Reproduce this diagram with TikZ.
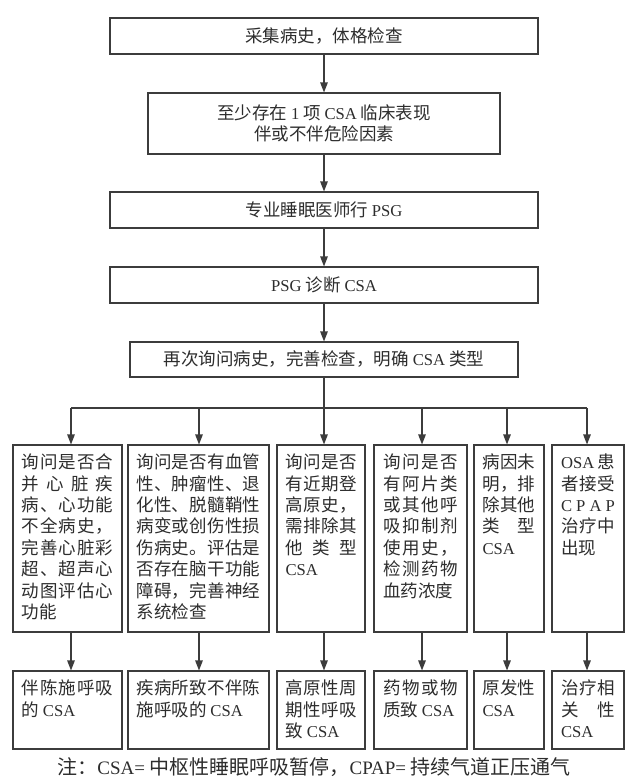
\documentclass[tikz,border=0pt]{standalone}
\usepackage{fontspec}
\setmainfont{Noto Sans CJK SC}
\newfontfamily\latf{Liberation Serif}[Scale=0.95]
\newcommand\en[1]{{\latf #1}}
\usetikzlibrary{arrows.meta}
\definecolor{lc}{RGB}{60,60,60}
\definecolor{tc}{RGB}{45,45,45}
\def\spline#1{\hbox to\hsize{\spa#1\relax\relax}}
\def\spa#1#2{#1\ifx\relax#2\else\hfil\expandafter\spa\fi{#2}}
\newcommand\cfont{\fontsize{17.5pt}{21.4pt}\selectfont}
\newcommand\ctext[3]{\parbox[c][#2][t]{#1}{\cfont #3}}
\begin{document}
\begin{tikzpicture}[x=1pt,y=-1pt,
  box/.style={draw=lc, line width=1.1pt, inner sep=0pt, text=tc, font=\cfont},
  link/.style={draw=lc, line width=1.1pt},
  arr/.style={link, -{Triangle[length=10pt,width=7.5pt]}}]
\useasboundingbox (0,0) rectangle (640,782);
\fill[white] (0,0) rectangle (640,782);
% top chain
\node[box, minimum width=428, minimum height=36] (a) at (324,36) {采集病史，体格检查};
\node[box, minimum width=352, minimum height=61, align=center] (b) at (324,123.5) {至少存在 \en{1} 项 \en{CSA} 临床表现\\伴或不伴危险因素};
\node[box, minimum width=428, minimum height=36] (c) at (324,210) {专业睡眠医师行 \en{PSG}};
\node[box, minimum width=428, minimum height=36] (d) at (324,285) {\en{PSG} 诊断 \en{CSA}};
\node[box, minimum width=388, minimum height=35] (e) at (324,359.5) {再次询问病史，完善检查，明确 \en{CSA} 类型};
\draw[arr] (a) -- (b);
\draw[arr] (b) -- (c);
\draw[arr] (c) -- (d);
\draw[arr] (d) -- (e);
% bus
\coordinate (j) at (324,408);
\coordinate (c1) at (71,408);
\coordinate (c2) at (199,408);
\coordinate (c3) at (324,408);
\coordinate (c4) at (422,408);
\coordinate (c5) at (507,408);
\coordinate (c6) at (587,408);
\draw[link] (e) -- (j);
\draw[link] (c1) -- (c6);
% row of questions
\node[box, minimum width=109, minimum height=187] (r1) at (67.5,538.5) {\ctext{92pt}{169pt}{%
\spline{询问是否合}\spline{并心脏疾}\spline{病、心功能}\spline{不全病史，}\spline{完善心脏彩}\spline{超、超声心}\spline{动图评估心}功能}};
\node[box, minimum width=141, minimum height=187] (r2) at (198.5,538.5) {\ctext{124pt}{169pt}{%
\spline{询问是否有血管}\spline{性、肿瘤性、退}\spline{化性、脱髓鞘性}\spline{病变或创伤性损}\spline{伤病史。评估是}\spline{否存在脑干功能}\spline{障碍，完善神经}系统检查}};
\node[box, minimum width=88, minimum height=187] (r3) at (321,538.5) {\ctext{71pt}{169pt}{%
\spline{询问是否}\spline{有近期登}\spline{高原史，}\spline{需排除其}\spline{他类型}\en{CSA}}};
\node[box, minimum width=93, minimum height=187] (r4) at (420.5,538.5) {\ctext{75pt}{169pt}{%
\spline{询问是否}\spline{有阿片类}\spline{或其他呼}\spline{吸抑制剂}\spline{使用史，}\spline{检测药物}血药浓度}};
\node[box, minimum width=70, minimum height=187] (r5) at (509,538.5) {\ctext{53pt}{169pt}{%
\spline{病因未}\spline{{明，}排}\spline{除其他}\spline{类型}\en{CSA}}};
\node[box, minimum width=72, minimum height=187] (r6) at (588,538.5) {\ctext{54pt}{169pt}{%
\spline{{\en{OSA}}患}\spline{者接受}\spline{{\en{C}}{\en{P}}{\en{A}}{\en{P}}}\spline{治疗中}出现}};
\draw[arr] (c1) -- (c1 |- r1.north);
\draw[arr] (c2) -- (c2 |- r2.north);
\draw[arr] (c3) -- (c3 |- r3.north);
\draw[arr] (c4) -- (c4 |- r4.north);
\draw[arr] (c5) -- (c5 |- r5.north);
\draw[arr] (c6) -- (c6 |- r6.north);
% row of results
\node[box, minimum width=109, minimum height=78] (s1) at (67.5,710) {\ctext{92pt}{60pt}{%
\spline{伴陈施呼吸}的 \en{CSA}}};
\node[box, minimum width=141, minimum height=78] (s2) at (198.5,710) {\ctext{124pt}{60pt}{%
\spline{疾病所致不伴陈}施呼吸的 \en{CSA}}};
\node[box, minimum width=88, minimum height=78] (s3) at (321,710) {\ctext{71pt}{60pt}{%
\spline{高原性周}\spline{期性呼吸}致 \en{CSA}}};
\node[box, minimum width=93, minimum height=78] (s4) at (420.5,710) {\ctext{75pt}{60pt}{%
\spline{药物或物}质致 \en{CSA}}};
\node[box, minimum width=70, minimum height=78] (s5) at (509,710) {\ctext{53pt}{60pt}{%
\spline{原发性}\en{CSA}}};
\node[box, minimum width=72, minimum height=78] (s6) at (588,710) {\ctext{54pt}{60pt}{%
\spline{治疗相}\spline{关性}\en{CSA}}};
\draw[arr] (c1 |- r1.south) -- (c1 |- s1.north);
\draw[arr] (c2 |- r2.south) -- (c2 |- s2.north);
\draw[arr] (c3 |- r3.south) -- (c3 |- s3.north);
\draw[arr] (c4 |- r4.south) -- (c4 |- s4.north);
\draw[arr] (c5 |- r5.south) -- (c5 |- s5.north);
\draw[arr] (c6 |- r6.south) -- (c6 |- s6.north);
% note
\node[text=tc, inner sep=0pt, font=\fontsize{20pt}{24pt}\selectfont] (note) at (314,767) {注：\en{CSA=} 中枢性睡眠呼吸暂停，\en{CPAP=} 持续气道正压通气};
\end{tikzpicture}
\end{document}
